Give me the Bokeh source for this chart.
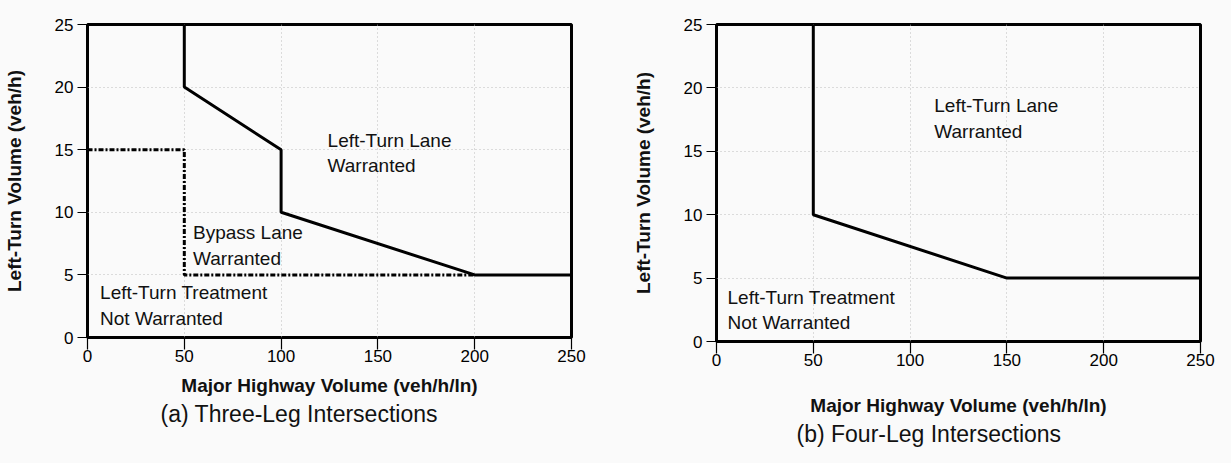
from bokeh.plotting import figure
from bokeh.layouts import row
from bokeh.models import Range1d, FixedTicker, Title
from bokeh.core.properties import value
from bokeh.embed import file_html
from bokeh.resources import INLINE

# ---- data ----
x_ticks = [0, 50, 100, 150, 200, 250]
y_ticks = [0, 5, 10, 15, 20, 25]

# (a) three-leg intersections
a_lane_x = [50, 50, 100, 100, 200, 250]
a_lane_y = [25, 20, 15, 10, 5, 5]
a_bypass_x = [0, 50, 50, 200]
a_bypass_y = [15, 15, 5, 5]
a_labels = ["Left-Turn Lane", "Warranted", "Bypass Lane", "Warranted",
            "Left-Turn Treatment", "Not Warranted"]
a_label_x = [124, 124, 54.5, 54.5, 6.5, 6.5]
a_label_y = [15.7, 13.7, 8.4, 6.3, 3.6, 1.5]

# (b) four-leg intersections
b_lane_x = [50, 50, 150, 250]
b_lane_y = [25, 10, 5, 5]
b_labels = ["Left-Turn Lane", "Warranted", "Left-Turn Treatment", "Not Warranted"]
b_label_x = [112.5, 112.5, 5.7, 5.7]
b_label_y = [18.6, 16.6, 3.5, 1.5]

x_title = "Major Highway Volume (veh/h/ln)"
y_title = "Left-Turn Volume (veh/h)"
caption_a = "(a) Three-Leg Intersections"
caption_b = "(b) Four-Leg Intersections"

FONT = "Liberation Sans"
BG = "#fafafa"


def make_fig(frame_h, left, top, right, bottom, caption, cap_offset, xlab_standoff):
    p = figure(frame_width=484, frame_height=frame_h,
               min_border_left=left, min_border_top=top,
               min_border_right=right, min_border_bottom=bottom,
               x_range=Range1d(0, 250), y_range=Range1d(0, 25),
               output_backend="svg", toolbar_location=None,
               background_fill_color=BG, border_fill_color=BG)
    p.outline_line_color = "black"
    p.outline_line_width = 3
    p.xaxis.ticker = FixedTicker(ticks=x_ticks)
    p.yaxis.ticker = FixedTicker(ticks=y_ticks)
    for ax in (p.xaxis[0], p.yaxis[0]):
        ax.axis_line_color = None
        ax.major_tick_in = 0
        ax.minor_tick_line_color = None
        ax.major_tick_line_color = "black"
        ax.major_tick_line_width = 1.2
        ax.major_label_text_font = FONT
        ax.major_label_text_font_size = "17px"
        ax.major_label_text_color = "black"
        ax.axis_label_text_font = FONT
        ax.axis_label_text_font_size = "19px"
        ax.axis_label_text_font_style = "bold"
        ax.axis_label_text_color = "#111111"
    p.xaxis.major_tick_out = 12
    p.yaxis.major_tick_out = 10
    p.xaxis.major_label_standoff = 0
    p.yaxis.major_label_standoff = 4
    p.xaxis.axis_label = x_title
    p.yaxis.axis_label = y_title
    p.xaxis.axis_label_standoff = xlab_standoff
    p.yaxis.axis_label_standoff = 27
    for g in (p.xgrid[0], p.ygrid[0]):
        g.grid_line_color = "#bdbdbd"
        g.grid_line_dash = "1 3"
        g.grid_line_width = 1
    p.add_layout(Title(text=caption, align="left", offset=cap_offset,
                       text_font=FONT, text_font_size="23px",
                       text_font_style="normal", text_color="#111111",
                       standoff=0), "below")
    return p


pa = make_fig(313, 87, 14, 29, 136, caption_a, 73, 10)
pa.line(a_bypass_x, a_bypass_y, line_color="black", line_width=3,
        line_dash="5 2 2 2")
pa.line(a_lane_x, a_lane_y, line_color="black", line_width=3)
pa.text(a_label_x, a_label_y, text=a_labels, text_font=value(FONT),
        text_font_size="19px", text_baseline="middle", text_align="left",
        text_color="#111111")

pb = make_fig(317, 116, 24, 31, 122, caption_b, 80, 26)
pb.line(b_lane_x, b_lane_y, line_color="black", line_width=3)
pb.text(b_label_x, b_label_y, text=b_labels, text_font=value(FONT),
        text_font_size="19px", text_baseline="middle", text_align="left",
        text_color="#111111")

layout = row(pa, pb, spacing=0)
layout.styles = {"background-color": BG}
open("out.html", "w").write(file_html(layout, INLINE))
